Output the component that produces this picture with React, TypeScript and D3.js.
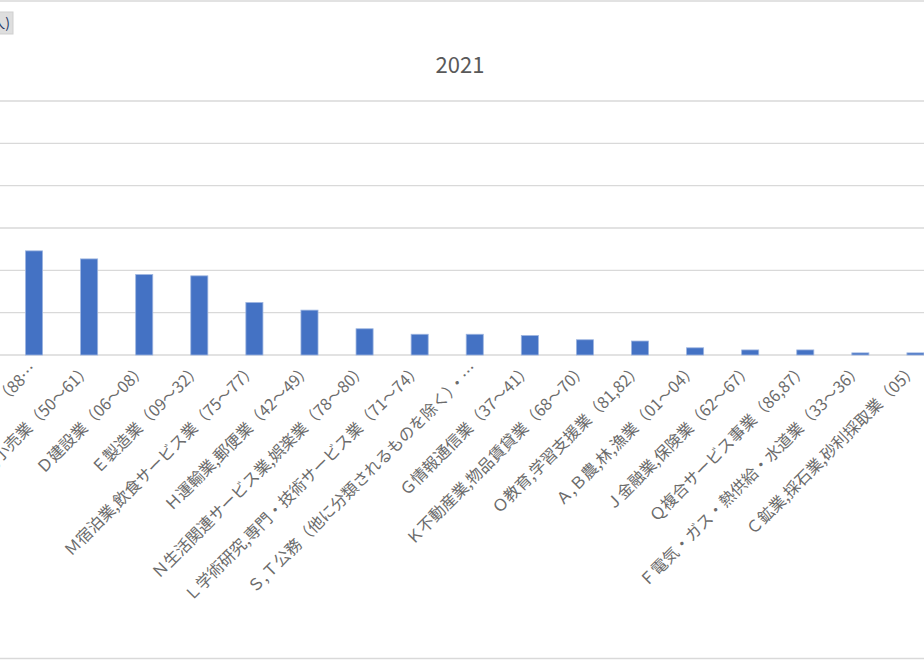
import React from "react";
import * as d3 from "d3";

const title = "2021";
const categories = [
  "Ｒサービス業（他に分類されないもの）（88…",
  "Ｉ卸売業,小売業（50～61）",
  "Ｄ建設業（06～08）",
  "Ｅ製造業（09～32）",
  "Ｍ宿泊業,飲食サービス業（75～77）",
  "Ｈ運輸業,郵便業（42～49）",
  "Ｎ生活関連サービス業,娯楽業（78～80）",
  "Ｌ学術研究,専門・技術サービス業（71～74）",
  "Ｓ,Ｔ公務（他に分類されるものを除く）・…",
  "Ｇ情報通信業（37～41）",
  "Ｋ不動産業,物品賃貸業（68～70）",
  "Ｏ教育,学習支援業（81,82）",
  "Ａ,Ｂ農,林,漁業（01～04）",
  "Ｊ金融業,保険業（62～67）",
  "Ｑ複合サービス事業（86,87）",
  "Ｆ電気・ガス・熱供給・水道業（33～36）",
  "Ｃ鉱業,採石業,砂利採取業（05）",
];
const values = [246, 227, 190, 187, 124, 106, 62, 49, 49, 46, 36, 33, 17, 12, 12, 5, 5];
const yTicks = [0, 100, 200, 300, 400, 500, 600];

const W = 924;
const H = 660;

export default function App() {
  const x = d3
    .scaleBand<string>()
    .domain(categories)
    .range([6.5, 943])
    .paddingInner(0.69)
    .paddingOuter(0.345);
  const y = d3.scaleLinear().domain([0, 600]).range([355, 101]);
  const font = "'Noto Sans CJK JP', 'Noto Sans', sans-serif";

  return (
    <svg
      width={W}
      height={H}
      style={{ position: "absolute", left: 0, top: 0, background: "#fff" }}
    >
      <rect x={0} y={0} width={W} height={H} fill="#fff" />
      {/* chart frame lines */}
      <line x1={0} x2={W} y1={1} y2={1} stroke="#d9d9d9" strokeWidth={1.5} />
      <line x1={0} x2={W} y1={658.5} y2={658.5} stroke="#d9d9d9" strokeWidth={1.5} />
      {/* unit box cut off at left */}
      <rect x={-20} y={12} width={33} height={22} fill="#dedede" stroke="#cfcfcf" />
      <text x={10} y={28} fontSize={14} fontFamily={font} fill="#1f3864" textAnchor="end">
        (人)
      </text>
      {/* title */}
      <text
        x={460}
        y={73}
        textAnchor="middle"
        fontSize={22}
        fontFamily={font}
        fill="#595959"
      >
        {title}
      </text>
      {/* gridlines */}
      {yTicks.map((t) => (
        <line
          key={t}
          x1={0}
          x2={W}
          y1={y(t)}
          y2={y(t)}
          stroke="#d9d9d9"
          strokeWidth={1.3}
        />
      ))}
      {/* bars */}
      {categories.map((c, i) => (
        <rect
          key={c}
          x={x(c)!}
          y={y(values[i])}
          width={x.bandwidth()}
          height={y(0) - y(values[i])}
          fill="#4472c4"
          stroke="#9db5e0"
          strokeWidth={0.8}
        />
      ))}
      {/* category labels */}
      {categories.map((c) => {
        const cx = x(c)! + x.bandwidth() / 2 + 0.5;
        const cy = 367;
        return (
          <text
            key={"l" + c}
            transform={`translate(${cx},${cy}) rotate(-45)`}
            textAnchor="end"
            dominantBaseline="middle"
            fontSize={16}
            fontFamily={font}
            fill="#6b6b6b"
          >
            {c}
          </text>
        );
      })}
    </svg>
  );
}
